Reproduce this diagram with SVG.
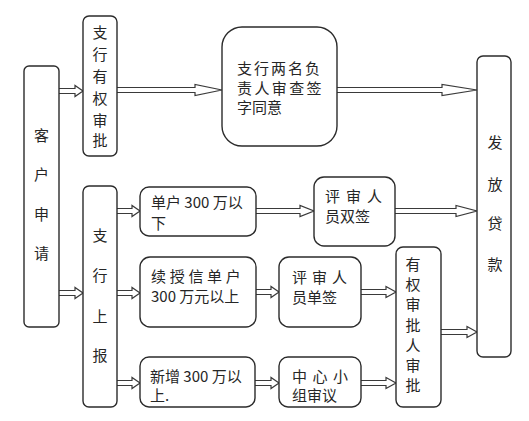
<svg xmlns="http://www.w3.org/2000/svg" width="529" height="421" viewBox="0 0 529 421">
<style>
.box{fill:#fff;stroke:#2b2b2b;stroke-width:1.4}
.arr{fill:#fff;stroke:#3a3a3a;stroke-width:1.2;stroke-linejoin:miter}
text{font-family:"Noto Sans CJK SC","Liberation Sans",sans-serif;font-size:15px;fill:#262626}
.v{text-anchor:middle}
</style>
<rect width="529" height="421" fill="#fff"/>
<g id="connectors">
<path class="arr" d="M59 88.5H75V85.5L83 91L75 96.5V93.5H59"/>
<path class="arr" d="M117 87.5H195V84.5L222 90L195 95.5V92.5H117"/>
<path class="arr" d="M337 87.5H442V84.5L477 90L442 95.5V92.5H337"/>
<path class="arr" d="M59 290.5H75V287.5L83 293L75 298.5V295.5H59"/>
<path class="arr" d="M117 208.5H132V205.5L140 211L132 216.5V213.5H117"/>
<path class="arr" d="M117 290.5H132V287.5L140 293L132 298.5V295.5H117"/>
<path class="arr" d="M117 380.5H132V377.5L140 383L132 388.5V385.5H117"/>
<path class="arr" d="M256 208.5H300V205.5L314 211L300 216.5V213.5H256"/>
<path class="arr" d="M395 208.5H456V205.5L477 211L456 216.5V213.5H395"/>
<path class="arr" d="M256 289.5H271V286.5L279 292L271 297.5V294.5H256"/>
<path class="arr" d="M361 289.5H386V286.5L396 292L386 297.5V294.5H361"/>
<path class="arr" d="M255 380.5H271V377.5L279 383L271 388.5V385.5H255"/>
<path class="arr" d="M361 380.5H386V377.5L396 383L386 388.5V385.5H361"/>
<path class="arr" d="M441 329.5H467V326.5L477 332L467 337.5V334.5H441"/>
</g>
<g id="kehu">
<rect class="box" x="24" y="66" width="35" height="261" rx="5"/>
<text class="v"><tspan x="41.5" y="140.5">客</tspan><tspan x="41.5" y="180">户</tspan><tspan x="41.5" y="219.5">申</tspan><tspan x="41.5" y="259">请</tspan></text>
</g>
<g id="zhihang-youquan">
<rect class="box" x="83" y="16" width="34" height="140" rx="6"/>
<text class="v"><tspan x="100" y="38">支</tspan><tspan x="100" y="60">行</tspan><tspan x="100" y="82">有</tspan><tspan x="100" y="104">权</tspan><tspan x="100" y="126">审</tspan><tspan x="100" y="146">批</tspan></text>
</g>
<g id="zhihang-shangbao">
<rect class="box" x="83" y="186" width="34" height="221" rx="6"/>
<text class="v"><tspan x="100" y="241">支</tspan><tspan x="100" y="281">行</tspan><tspan x="100" y="322">上</tspan><tspan x="100" y="361">报</tspan></text>
</g>
<g id="liangming">
<rect class="box" x="222" y="27" width="115" height="119" rx="20"/>
<text><tspan x="237" y="74" letter-spacing="2">支行两名负</tspan><tspan x="237" y="93.5" letter-spacing="2.4">责人审查签</tspan><tspan x="237" y="113" letter-spacing="0">字同意</tspan></text>
</g>
<g id="fafang">
<rect class="box" x="477" y="56" width="34" height="301" rx="6"/>
<text class="v"><tspan x="495" y="148">发</tspan><tspan x="495" y="190">放</tspan><tspan x="495" y="229">贷</tspan><tspan x="495" y="270">款</tspan></text>
</g>
<g id="danhu">
<rect class="box" x="140" y="187" width="116" height="49" rx="9"/>
<text><tspan x="151" y="208">单户 300 万以</tspan><tspan x="151" y="229">下</tspan></text>
</g>
<g id="xushouxin">
<rect class="box" x="140" y="257" width="116" height="70" rx="10"/>
<text><tspan x="151" y="282" letter-spacing="3.7">续授信单户</tspan><tspan x="151" y="302" letter-spacing="0">300 万元以上</tspan></text>
</g>
<g id="xinzeng">
<rect class="box" x="140" y="357" width="115" height="50" rx="9"/>
<text><tspan x="150" y="381.5">新增 300 万以</tspan><tspan x="150" y="401">上.</tspan></text>
</g>
<g id="shuangqian">
<rect class="box" x="314" y="177" width="81" height="69" rx="10"/>
<text><tspan x="325" y="202" letter-spacing="6">评审人</tspan><tspan x="325" y="221.5" letter-spacing="0">员双签</tspan></text>
</g>
<g id="danqian">
<rect class="box" x="279" y="257" width="82" height="70" rx="10"/>
<text><tspan x="292" y="283" letter-spacing="5">评审人</tspan><tspan x="292" y="302.5" letter-spacing="0">员单签</tspan></text>
</g>
<g id="zhongxin">
<rect class="box" x="279" y="357" width="82" height="50" rx="9"/>
<text><tspan x="292" y="381.5" letter-spacing="5.5">中心小</tspan><tspan x="292" y="401" letter-spacing="0">组审议</tspan></text>
</g>
<g id="youquan-shenpi">
<rect class="box" x="396" y="247" width="45" height="160" rx="7"/>
<text class="v"><tspan x="413" y="270">有</tspan><tspan x="413" y="290.2">权</tspan><tspan x="413" y="310.4">审</tspan><tspan x="413" y="330.6">批</tspan><tspan x="413" y="350.8">人</tspan><tspan x="413" y="371">审</tspan><tspan x="413" y="391.2">批</tspan></text>
</g>
</svg>
